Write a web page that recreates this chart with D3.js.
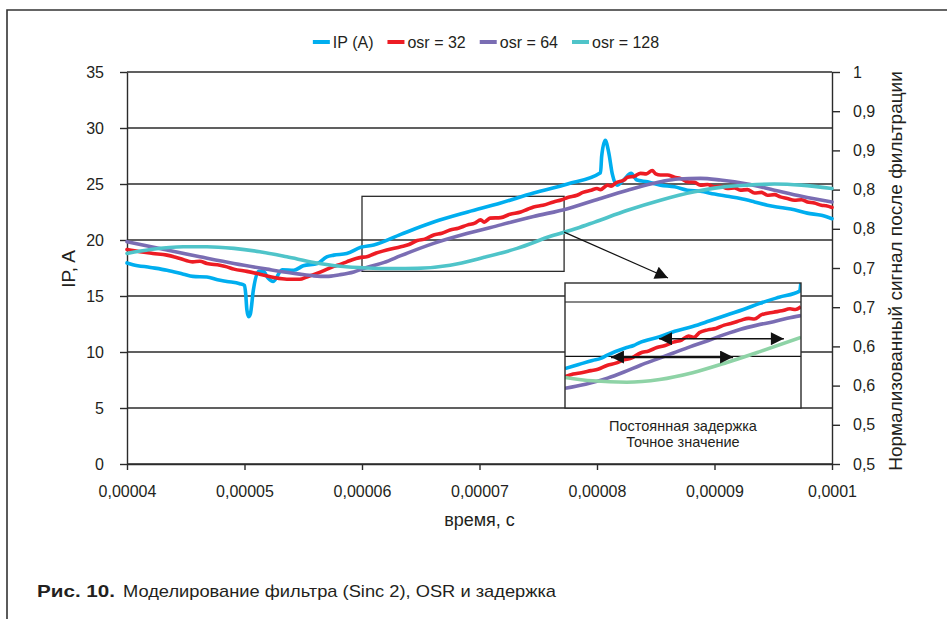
<!DOCTYPE html>
<html>
<head>
<meta charset="utf-8">
<script src="https://cdn.jsdelivr.net/npm/d3@7"></script>
<style>
  html, body { margin: 0; padding: 0; background: #fff; }
  svg { display: block; font-family: 'Liberation Sans', Arial, sans-serif; fill: #231f20; }
</style>
</head>
<body>
<svg id="chart" width="947" height="619"></svg>
<script>
// Time values are kept in microseconds, labels are what the figure prints.
const timeTicks = [40, 50, 60, 70, 80, 90, 100];
const timeLabels = ['0,00004', '0,00005', '0,00006', '0,00007', '0,00008', '0,00009', '0,0001'];
const currentTicks = [0, 5, 10, 15, 20, 25, 30, 35];
const normTicks = [0.5, 0.55, 0.6, 0.65, 0.7, 0.75, 0.8, 0.85, 0.9, 0.95, 1];
const normLabels = ['0,5', '0,5', '0,6', '0,6', '0,7', '0,7', '0,8', '0,8', '0,9', '0,9', '1'];

const seriesNames = ['IP (A)', 'osr = 32', 'osr = 64', 'osr = 128'];

// [time, current]
const ipCurrent = [
    [40.0, 17.95], [40.5, 17.8], [42.0, 17.55], [43.4, 17.3], [44.8, 16.95], [45.6, 16.75],
    [46.8, 16.7], [47.7, 16.45], [48.5, 16.3], [49.6, 16.1], [50.0, 15.95], [50.1, 15.2],
    [50.2, 13.8], [50.35, 13.15], [50.5, 13.4], [50.75, 15.5], [51.2, 17.2], [51.6, 17.2],
    [52.0, 16.6], [52.45, 16.3], [53.2, 17.35], [54.2, 17.3], [55.0, 17.7], [56.2, 17.9],
    [57.0, 18.5], [57.6, 18.65], [58.7, 18.8], [59.9, 19.35], [61.0, 19.55], [63.3, 20.5],
    [66.1, 21.6], [69.0, 22.5], [71.8, 23.3], [74.6, 24.2], [77.5, 25.0], [80.3, 26.0],
    [80.4, 27.5], [80.7, 28.9], [81.0, 27.8], [81.3, 25.9], [81.7, 24.9], [82.3, 25.4],
    [82.9, 25.95], [83.4, 25.35], [84.3, 25.2], [85.4, 24.9], [86.6, 24.75], [87.7, 24.45],
    [88.8, 24.35], [90.0, 24.1], [91.1, 23.9], [92.2, 23.7], [93.4, 23.4], [94.5, 23.1],
    [95.6, 22.9], [96.8, 22.7], [97.9, 22.4], [99.1, 22.2], [100.0, 21.9]
];
const osr32 = [
    [40.0, 19.15], [41.1, 18.95], [42.2, 18.8], [43.4, 18.65], [44.5, 18.35], [45.6, 18.05],
    [46.2, 18.1], [46.8, 17.9], [47.9, 17.75], [48.5, 17.6], [49.1, 17.4], [50.2, 17.2],
    [51.3, 16.95], [52.5, 16.65], [53.6, 16.5], [54.7, 16.5], [55.3, 16.7], [56.5, 17.15],
    [57.6, 17.65], [58.2, 17.85], [58.7, 18.05], [59.9, 18.45], [60.4, 18.5], [61.0, 18.75],
    [62.1, 19.1], [63.3, 19.4], [64.0, 19.6], [64.7, 19.95], [65.4, 20.1], [66.1, 20.45],
    [66.8, 20.6], [67.5, 20.9], [68.2, 21.05], [69.0, 21.35], [69.6, 21.5], [70.1, 21.8],
    [70.4, 21.6], [70.9, 21.95], [71.8, 22.0], [72.6, 22.3], [73.5, 22.5], [74.0, 22.7],
    [74.6, 22.95], [75.4, 23.1], [76.3, 23.4], [77.0, 23.6], [77.5, 23.8], [78.3, 24.0],
    [78.8, 24.25], [79.5, 24.45], [80.0, 24.6], [80.3, 24.5], [80.9, 24.9], [81.2, 24.8],
    [81.6, 25.1], [82.3, 25.35], [82.6, 25.6], [83.2, 25.7], [83.7, 25.95], [84.2, 25.9],
    [84.7, 26.2], [85.0, 25.9], [85.4, 25.8], [86.0, 25.8], [86.6, 25.6], [87.1, 25.5],
    [87.7, 25.2], [88.3, 25.15], [88.8, 24.9], [89.4, 24.95], [90.0, 24.75], [90.5, 24.8],
    [91.1, 24.6], [91.7, 24.65], [92.2, 24.45], [92.8, 24.5], [93.4, 24.2], [94.0, 24.25],
    [94.5, 24.0], [95.1, 24.05], [95.6, 23.85], [96.2, 23.7], [96.8, 23.55], [97.4, 23.6],
    [97.9, 23.4], [98.5, 23.3], [99.1, 23.1], [99.5, 23.05], [100.0, 22.9]
];
const osr64 = [
    [40.0, 19.85], [43.4, 19.1], [46.2, 18.5], [49.1, 17.9], [51.9, 17.4], [54.7, 16.95],
    [55.9, 16.8], [57.0, 16.75], [58.1, 16.9], [59.3, 17.15], [60.4, 17.55], [61.9, 18.0],
    [63.3, 18.6], [66.1, 19.7], [69.0, 20.6], [71.8, 21.35], [74.6, 22.1], [77.5, 22.8],
    [79.8, 23.55], [82.6, 24.45], [85.4, 25.2], [86.9, 25.45], [88.8, 25.5], [90.5, 25.35],
    [92.8, 25.0], [95.1, 24.45], [97.4, 23.9], [100.0, 23.4]
];
const osr128 = [
    [40.0, 18.8], [42.0, 19.15], [44.8, 19.4], [46.8, 19.4], [49.1, 19.25], [51.3, 18.95],
    [53.6, 18.5], [55.9, 18.0], [58.2, 17.65], [60.4, 17.5], [62.7, 17.45], [64.7, 17.47],
    [67.5, 17.75], [70.4, 18.45], [73.2, 19.25], [76.1, 20.35], [78.3, 21.05], [79.8, 21.6],
    [82.6, 22.65], [85.4, 23.55], [88.3, 24.3], [90.5, 24.7], [92.8, 24.9], [95.1, 25.0],
    [97.4, 24.9], [100.0, 24.6]
];

// close-up panel, read separately: it is redrawn, not cropped
const ipInset = [
    [60.0, 19.1], [61.0, 19.4], [62.0, 19.7], [62.6, 19.85], [63.0, 20.05], [64.5, 20.65],
    [65.0, 20.8], [65.4, 21.0], [66.9, 21.45], [68.0, 21.85], [69.3, 22.2], [70.5, 22.6],
    [71.8, 23.05], [73.0, 23.45], [74.2, 23.9], [75.6, 24.35], [77.1, 24.8], [77.2, 25.5]
];
const osr32Inset = [
    [60.0, 18.5], [60.6, 18.7], [61.2, 18.8], [61.9, 18.95], [62.4, 19.05], [63.1, 19.35],
    [63.7, 19.5], [64.3, 19.75], [64.8, 19.85], [65.5, 20.25], [66.1, 20.4], [66.7, 20.65],
    [67.3, 20.8], [67.9, 21.05], [68.5, 21.2], [69.0, 21.5], [69.4, 21.4], [69.8, 21.75],
    [70.4, 21.95], [71.0, 22.05], [71.6, 22.3], [72.2, 22.45], [72.8, 22.65], [73.4, 22.8],
    [73.8, 22.75], [74.3, 23.05], [75.2, 23.25], [75.8, 23.35], [76.4, 23.5], [76.8, 23.45],
    [77.2, 23.65]
];
const osr64Inset = [
    [60.0, 17.65], [61.5, 17.95], [63.1, 18.4], [64.3, 18.85], [65.5, 19.35], [66.7, 19.8],
    [67.9, 20.25], [69.1, 20.7], [70.4, 21.15], [71.6, 21.6], [72.8, 22.0], [74.0, 22.3],
    [75.2, 22.55], [76.2, 22.8], [77.2, 23.0]
];
const osr128Inset = [
    [60.0, 18.45], [62.0, 18.2], [64.5, 18.1], [66.9, 18.3], [69.3, 18.8], [71.8, 19.55],
    [74.2, 20.35], [77.2, 21.4]
];
const zoomTime = [60, 77.2];
const zoomCurrent = [17.2, 23.9];
const insetCurrent = [16.2, 25.4];
const insetGrid = [20, 24];
// [from, to, level] - delay arrows inside the close-up
const delayArrows = [[66.85, 75.95, 21.3], [63.35, 72.25, 19.95]];
const insetNotes = ['Постоянная задержка', 'Точное значение'];

const colors = ['#00aeef', '#ed1c24', '#7a6db3', '#4fc4c9'];
const insetColors = ['#00aeef', '#ed1c24', '#7a6db3', '#8ed3a6'];
const ink = '#2b2b2b';

const plot = { left: 127, right: 832, top: 72, bottom: 464 };
const inset = { left: 565, right: 801, top: 283, bottom: 408 };

const svg = d3.select('#chart');

const x = d3.scaleLinear().domain([40, 100]).range([plot.left, plot.right]);
const y = d3.scaleLinear().domain([0, 35]).range([plot.bottom, plot.top]);
const yNorm = d3.scaleLinear().domain([0.5, 1]).range([plot.bottom, plot.top]);

const defs = svg.append('defs');
defs.append('marker')
    .attr('id', 'head')
    .attr('viewBox', '0 0 10 10')
    .attr('refX', 10).attr('refY', 5)
    .attr('markerWidth', 16).attr('markerHeight', 13)
    .attr('markerUnits', 'userSpaceOnUse')
    .attr('orient', 'auto-start-reverse')
    .append('path')
    .attr('d', 'M0,0 L10,5 L0,10 Z')
    .attr('fill', '#111');
defs.append('clipPath').attr('id', 'inset-clip')
    .append('rect')
    .attr('x', inset.left).attr('y', inset.top)
    .attr('width', inset.right - inset.left).attr('height', inset.bottom - inset.top);

// outer frame of the figure
svg.append('path')
    .attr('d', 'M7,619 V10 H947')
    .attr('fill', 'none')
    .attr('stroke', '#333')
    .attr('stroke-width', 1.6);

// horizontal grid
svg.append('g').selectAll('line')
    .data(currentTicks)
    .join('line')
    .attr('x1', plot.left).attr('x2', plot.right)
    .attr('y1', d => y(d)).attr('y2', d => y(d))
    .attr('stroke', ink)
    .attr('stroke-width', 1.4);

const styleAxis = function styleAxis(g) {
    g.select('.domain').attr('stroke', ink).attr('stroke-width', 1.4);
    g.selectAll('.tick line').attr('stroke', ink).attr('stroke-width', 1.4);
    g.selectAll('.tick text')
        .attr('fill', '#231f20')
        .style('font-size', '16px')
        .style('font-family', "'Liberation Sans', Arial, sans-serif");
};

svg.append('g')
    .attr('transform', `translate(${plot.left},0)`)
    .call(d3.axisLeft(y).tickValues(currentTicks).tickSize(7).tickSizeOuter(0).tickPadding(16))
    .call(styleAxis);

svg.append('g')
    .attr('transform', `translate(${plot.right},0)`)
    .call(d3.axisRight(yNorm).tickValues(normTicks).tickSize(8).tickSizeOuter(0).tickPadding(13)
        .tickFormat((d, i) => normLabels[i]))
    .call(styleAxis);

svg.append('g')
    .attr('transform', `translate(0,${plot.bottom})`)
    .call(d3.axisBottom(x).tickValues(timeTicks).tickSize(6).tickSizeOuter(0).tickPadding(16)
        .tickFormat((d, i) => timeLabels[i]))
    .call(styleAxis);

// axis titles
svg.append('text')
    .attr('transform', `translate(68,${(plot.top + plot.bottom) / 2 + 1}) rotate(-90)`)
    .attr('text-anchor', 'middle')
    .attr('dy', '0.35em')
    .style('font-size', '19px')
    .text('IP, A');
svg.append('text')
    .attr('transform', `translate(895,${(plot.top + plot.bottom) / 2 + 3}) rotate(-90)`)
    .attr('text-anchor', 'middle')
    .attr('dy', '0.35em')
    .style('font-size', '19px')
    .text('Нормализованный сигнал после фильтрации');
svg.append('text')
    .attr('x', (plot.left + plot.right) / 2)
    .attr('y', 526)
    .attr('text-anchor', 'middle')
    .style('font-size', '18px')
    .text('время, с');

// the window that gets magnified
svg.append('rect')
    .attr('x', x(zoomTime[0]))
    .attr('y', y(zoomCurrent[1]))
    .attr('width', x(zoomTime[1]) - x(zoomTime[0]))
    .attr('height', y(zoomCurrent[0]) - y(zoomCurrent[1]))
    .attr('fill', 'none')
    .attr('stroke', ink)
    .attr('stroke-width', 1.3);

const allSeries = [ipCurrent, osr32, osr64, osr128];

const line = d3.line()
    .x(d => x(d[0]))
    .y(d => y(d[1]))
    .curve(d3.curveMonotoneX);

svg.append('g').selectAll('path')
    .data(allSeries)
    .join('path')
    .attr('d', line)
    .attr('fill', 'none')
    .attr('stroke', (d, i) => colors[i])
    .attr('stroke-width', 3.6)
    .attr('stroke-linejoin', 'round')
    .attr('stroke-linecap', 'round');

// close-up panel
const ix = d3.scaleLinear().domain(zoomTime).range([inset.left, inset.right]);
const iy = d3.scaleLinear().domain(insetCurrent).range([inset.bottom, inset.top]);

const insetGroup = svg.append('g');
insetGroup.append('rect')
    .attr('x', inset.left).attr('y', inset.top)
    .attr('width', inset.right - inset.left).attr('height', inset.bottom - inset.top)
    .attr('fill', '#fff');

insetGroup.append('g').selectAll('line')
    .data(insetGrid)
    .join('line')
    .attr('x1', inset.left).attr('x2', inset.right)
    .attr('y1', d => iy(d)).attr('y2', d => iy(d))
    .attr('stroke', '#111')
    .attr('stroke-width', 1.2);

const insetLine = d3.line()
    .x(d => ix(d[0]))
    .y(d => iy(d[1]))
    .curve(d3.curveMonotoneX);

const insetSeries = [ipInset, osr32Inset, osr64Inset, osr128Inset];

insetGroup.append('g')
    .attr('clip-path', 'url(#inset-clip)')
    .selectAll('path')
    .data(insetSeries)
    .join('path')
    .attr('d', insetLine)
    .attr('fill', 'none')
    .attr('stroke', (d, i) => insetColors[i])
    .attr('stroke-width', 3.6)
    .attr('stroke-linejoin', 'round');

insetGroup.append('rect')
    .attr('x', inset.left).attr('y', inset.top)
    .attr('width', inset.right - inset.left).attr('height', inset.bottom - inset.top)
    .attr('fill', 'none')
    .attr('stroke', ink)
    .attr('stroke-width', 1.4);

insetGroup.append('g').selectAll('line')
    .data(delayArrows)
    .join('line')
    .attr('x1', d => ix(d[0])).attr('x2', d => ix(d[1]))
    .attr('y1', d => iy(d[2])).attr('y2', d => iy(d[2]))
    .attr('stroke', '#111')
    .attr('stroke-width', (d, i) => (i === 0 ? 1.4 : 2.2))
    .attr('marker-start', 'url(#head)')
    .attr('marker-end', 'url(#head)');

insetGroup.append('g').selectAll('text')
    .data(insetNotes)
    .join('text')
    .attr('x', (inset.left + inset.right) / 2)
    .attr('y', (d, i) => inset.bottom + 23 + i * 16)
    .attr('text-anchor', 'middle')
    .style('font-size', '14.5px')
    .text(d => d);

// pointer from the window to the close-up
svg.append('line')
    .attr('x1', x(zoomTime[1]))
    .attr('y1', y(20.7))
    .attr('x2', inset.left + 103)
    .attr('y2', inset.top - 5)
    .attr('stroke', '#111')
    .attr('stroke-width', 1.2)
    .attr('marker-end', 'url(#head)');

// legend, centred over the plot
const legend = svg.append('g');
const items = legend.selectAll('g')
    .data(seriesNames)
    .join('g');
items.append('line')
    .attr('x1', 0).attr('x2', 17)
    .attr('y1', 42).attr('y2', 42)
    .attr('stroke', (d, i) => colors[i])
    .attr('stroke-width', 4);
items.append('text')
    .attr('x', 20)
    .attr('y', 42)
    .attr('dy', '0.36em')
    .style('font-size', '16px')
    .text(d => d);

let offset = 0;
const widths = [];
items.each(function (d) {
    const w = 20 + this.querySelector('text').getComputedTextLength();
    widths.push(w);
});
const gap = 14;
const total = d3.sum(widths) + gap * (widths.length - 1);
const start = 486 - total / 2;
items.attr('transform', (d, i) => {
    const t = `translate(${start + offset},0)`;
    offset += widths[i] + gap;
    return t;
});

// caption
svg.append('text')
    .attr('x', 37)
    .attr('y', 597)
    .style('font-size', '17px')
    .style('font-weight', 'bold')
    .attr('textLength', 78)
    .attr('lengthAdjust', 'spacingAndGlyphs')
    .text('Рис. 10.');
svg.append('text')
    .attr('x', 123)
    .attr('y', 597)
    .style('font-size', '17px')
    .attr('textLength', 433)
    .attr('lengthAdjust', 'spacingAndGlyphs')
    .text('Моделирование фильтра (Sinc 2), OSR и задержка');
</script>
</body>
</html>
